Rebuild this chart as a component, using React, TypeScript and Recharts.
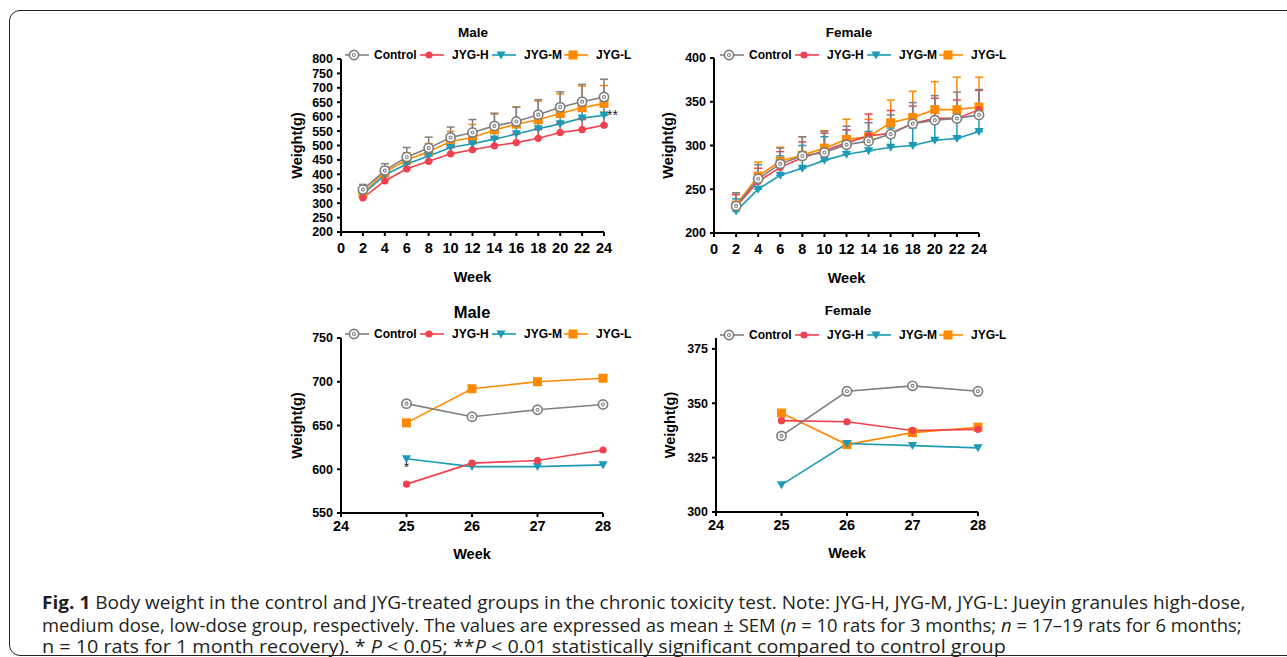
import { LineChart, Line, XAxis, YAxis, ErrorBar, Legend, ReferenceDot } from "recharts";

const FONT = "Arial, 'Liberation Sans', Helvetica, sans-serif";

// 6-month study, weeks 2..24
const weeks = [2, 4, 6, 8, 10, 12, 14, 16, 18, 20, 22, 24];
const maleControl = [347, 413, 460, 491, 528, 545, 568, 583, 607, 633, 652, 668];
const maleH = [318, 377, 419, 445, 471, 485, 499, 510, 525, 545, 555, 570];
const maleM = [330, 398, 436, 464, 493, 506, 522, 540, 558, 575, 595, 605];
const maleL = [336, 407, 450, 479, 514, 528, 554, 574, 589, 611, 631, 646];
const maleControlErr = [18, 24, 33, 38, 36, 45, 44, 50, 52, 53, 60, 62];
const maleHErr = [10, 15, 18, 20, 22, 25, 28, 30, 30, 32, 35, 45];
const maleMErr = [12, 18, 22, 25, 28, 32, 35, 40, 50, 45, 50, 52];
const maleLErr = [12, 20, 25, 28, 35, 45, 55, 60, 65, 68, 75, 62];

const femaleControl = [231, 262, 279, 288, 292, 301, 305, 313, 325, 329, 331, 335];
const femaleH = [230, 259, 275, 286, 294, 303, 311, 314, 325, 331, 331, 341];
const femaleM = [225, 250, 266, 274, 283, 290, 294, 298, 300, 306, 308, 316];
const femaleL = [232, 265, 282, 289, 297, 307, 310, 326, 332, 341, 341, 344];
const femaleControlErr = [15, 16, 18, 22, 24, 21, 21, 22, 24, 28, 30, 29];
const femaleHErr = [14, 15, 18, 18, 20, 15, 25, 26, 20, 23, 21, 22];
const femaleMErr = [14, 18, 22, 26, 27, 28, 22, 22, 20, 22, 20, 27];
const femaleLErr = [12, 16, 16, 21, 20, 23, 20, 26, 30, 32, 37, 34];

// recovery month, weeks 25..28
const recWeeks = [25, 26, 27, 28];
const recMaleControl = [675, 660, 668, 674];
const recMaleH = [583, 607, 610, 622];
const recMaleM = [612, 603, 603, 605];
const recMaleL = [653, 692, 700, 704];
const recFemaleControl = [335, 355.5, 358, 355.5];
const recFemaleH = [342, 341.5, 337.5, 338];
const recFemaleM = [312.5, 331.5, 330.5, 329.5];
const recFemaleL = [345.5, 331, 336.5, 339];

const tickWeeks = [0, 2, 4, 6, 8, 10, 12, 14, 16, 18, 20, 22, 24];
const tickRecWeeks = [24, 25, 26, 27, 28];
const tickMale = [200, 250, 300, 350, 400, 450, 500, 550, 600, 650, 700, 750, 800];
const tickFemale = [200, 250, 300, 350, 400];
const tickRecMale = [550, 600, 650, 700, 750];
const tickRecFemale = [300, 325, 350, 375];

type Kind = "circle" | "dot" | "tri" | "square";
type Series = { key: string; name: string; color: string; kind: Kind };

const SERIES: Series[] = [
  { key: "control", name: "Control", color: "#808080", kind: "circle" },
  { key: "h", name: "JYG-H", color: "#f2404e", kind: "dot" },
  { key: "m", name: "JYG-M", color: "#1b9bb5", kind: "tri" },
  { key: "l", name: "JYG-L", color: "#ff8a00", kind: "square" },
];
// drawn bottom to top
const DRAW = [SERIES[3], SERIES[2], SERIES[1], SERIES[0]];

function buildRows(xs: number[], c: number[], h: number[], m: number[], l: number[], errs?: number[][]) {
  return xs.map((week, i) => {
    const row: any = { week, control: c[i], h: h[i], m: m[i], l: l[i] };
    if (errs) {
      row.controlErr = [0, errs[0][i]];
      row.hErr = [0, errs[1][i]];
      row.mErr = [0, errs[2][i]];
      row.lErr = [0, errs[3][i]];
    }
    return row;
  });
}

function Marker({ kind, cx, cy, color }: { kind: Kind; cx: number; cy: number; color: string }) {
  if (cx == null || cy == null || isNaN(cx) || isNaN(cy)) return null;
  if (kind === "circle")
    return (
      <g>
        <circle cx={cx} cy={cy} r={4.6} fill="#fff" stroke={color} strokeWidth={1.7} />
        <circle cx={cx} cy={cy} r={1.5} fill="none" stroke={color} strokeWidth={1.1} />
      </g>
    );
  if (kind === "dot") return <circle cx={cx} cy={cy} r={3.6} fill={color} />;
  if (kind === "tri")
    return <path d={`M${cx - 4.6},${cy - 3.6}L${cx + 4.6},${cy - 3.6}L${cx},${cy + 4.4}Z`} fill={color} />;
  return <rect x={cx - 4.5} y={cy - 4.5} width={9} height={9} fill={color} />;
}

function LegendRow() {
  return (
    <div style={{ display: "flex", alignItems: "center", fontFamily: FONT, fontWeight: 700, fontSize: 12, color: "#000" }}>
      {SERIES.map((s) => (
        <div key={s.key} style={{ display: "flex", alignItems: "center", width: s.key === "control" ? 75 : 72 }}>
          <svg width={24} height={12}>
            <line x1={0} y1={6} x2={24} y2={6} stroke={s.color} strokeWidth={1.6} />
            <Marker kind={s.kind} cx={9} cy={6} color={s.color} />
          </svg>
          <span style={{ marginLeft: s.key === "control" ? 5 : 8 }}>{s.name}</span>
        </div>
      ))}
    </div>
  );
}

type PanelCfg = {
  title: string;
  titleX: number;
  titleY: number;
  titleSize: number;
  left: number;
  top: number;
  width: number;
  height: number;
  margin: { top: number; right: number; bottom: number; left: number };
  yWidth: number;
  yLabelOffset: number;
  xHeight: number;
  xTickMargin: number;
  xTickSize: number;
  yTickSize: number;
  data: any[];
  xDomain: [number, number];
  xTicks: number[];
  yDomain: [number, number];
  yTicks: number[];
  legendTop: number;
  legendLeft: number;
  errors: boolean;
  note?: { x: number; y: number; text: string; position: "right" | "bottom" };
};

function Panel({ cfg }: { cfg: PanelCfg }) {
  return (
    <>
      <div
        style={{
          position: "absolute",
          left: cfg.titleX - 60,
          width: 120,
          top: cfg.titleY - 10,
          height: 20,
          lineHeight: "20px",
          textAlign: "center",
          fontFamily: FONT,
          fontWeight: 700,
          fontSize: cfg.titleSize,
          color: "#000",
        }}
      >
        {cfg.title}
      </div>
      <div style={{ position: "absolute", left: cfg.left, top: cfg.top, fontFamily: FONT }}>
        <LineChart width={cfg.width} height={cfg.height} data={cfg.data} margin={cfg.margin}>
          <XAxis
            type="number"
            dataKey="week"
            domain={cfg.xDomain}
            ticks={cfg.xTicks}
            interval={0}
            height={cfg.xHeight}
            axisLine={{ stroke: "#000", strokeWidth: 2 }}
            tickLine={{ stroke: "#000", strokeWidth: 2 }}
            tickSize={cfg.xTickSize}
            tickMargin={cfg.xTickMargin}
            tick={{ fill: "#000", fontSize: 14.5, fontWeight: 700 }}
            label={{
              value: "Week",
              position: "insideBottom",
              offset: 0,
              fill: "#000",
              fontSize: 14.5,
              fontWeight: 700,
            }}
          />
          <YAxis
            type="number"
            domain={cfg.yDomain}
            ticks={cfg.yTicks}
            interval={0}
            width={cfg.yWidth}
            allowDataOverflow
            axisLine={{ stroke: "#000", strokeWidth: 2 }}
            tickLine={{ stroke: "#000", strokeWidth: 2 }}
            tickSize={cfg.yTickSize}
            tickMargin={4}
            tick={{ fill: "#000", fontSize: 12.5, fontWeight: 700 }}
            label={{
              value: "Weight(g)",
              angle: -90,
              position: "insideLeft",
              offset: cfg.yLabelOffset,
              fill: "#000",
              fontSize: 14.5,
              fontWeight: 700,
              style: { textAnchor: "middle" },
            }}
          />
          <Legend
            layout="vertical"
            align="center"
            verticalAlign="middle"
            wrapperStyle={{ top: cfg.legendTop, left: cfg.legendLeft, width: 300, height: 14, right: "auto", bottom: "auto" }}
            content={() => <LegendRow />}
          />
          {DRAW.map((s) => (
            <Line
              key={s.key}
              type="linear"
              dataKey={s.key}
              name={s.name}
              stroke={s.color}
              strokeWidth={1.6}
              isAnimationActive={false}
              dot={(p: any) => <Marker key={`${s.key}-${p.index}`} kind={s.kind} cx={p.cx} cy={p.cy} color={s.color} />}
              activeDot={false}
            >
              {cfg.errors && (
                <ErrorBar
                  dataKey={`${s.key}Err`}
                  direction="y"
                  width={4}
                  stroke={s.color}
                  strokeWidth={1.5}
                  isAnimationActive={false}
                />
              )}
            </Line>
          ))}
          {cfg.note && (
            <ReferenceDot
              x={cfg.note.x}
              y={cfg.note.y}
              r={0}
              fill="none"
              stroke="none"
              label={{ value: cfg.note.text, position: cfg.note.position, offset: 3, fill: "#222", fontSize: 14 }}
            />
          )}
        </LineChart>
      </div>
    </>
  );
}

const panels: PanelCfg[] = [
  {
    title: "Male",
    titleX: 473,
    titleY: 33,
    titleSize: 13.5,
    left: 270,
    top: 20,
    width: 364,
    height: 270,
    margin: { top: 39, right: 30, bottom: 8, left: 0 },
    yWidth: 71,
    yLabelOffset: 27,
    xHeight: 50,
    xTickMargin: 7,
    xTickSize: 4,
    yTickSize: 4,
    data: buildRows(weeks, maleControl, maleH, maleM, maleL, [maleControlErr, maleHErr, maleMErr, maleLErr]),
    xDomain: [0, 24],
    xTicks: tickWeeks,
    yDomain: [200, 800],
    yTicks: tickMale,
    legendTop: 28,
    legendLeft: 75,
    errors: true,
    note: { x: 24, y: 605, text: "**", position: "right" },
  },
  {
    title: "Female",
    titleX: 849,
    titleY: 33,
    titleSize: 13.5,
    left: 640,
    top: 20,
    width: 350,
    height: 270,
    margin: { top: 38, right: 11, bottom: 7, left: 0 },
    yWidth: 74,
    yLabelOffset: 28,
    xHeight: 50,
    xTickMargin: 7,
    xTickSize: 4,
    yTickSize: 4,
    data: buildRows(weeks, femaleControl, femaleH, femaleM, femaleL, [femaleControlErr, femaleHErr, femaleMErr, femaleLErr]),
    xDomain: [0, 24],
    xTicks: tickWeeks,
    yDomain: [200, 400],
    yTicks: tickFemale,
    legendTop: 28,
    legendLeft: 80,
    errors: true,
  },
  {
    title: "Male",
    titleX: 472,
    titleY: 312,
    titleSize: 16.5,
    left: 270,
    top: 295,
    width: 344,
    height: 275,
    margin: { top: 43, right: 11, bottom: 11, left: 0 },
    yWidth: 71,
    yLabelOffset: 27,
    xHeight: 46,
    xTickMargin: 4,
    xTickSize: 4,
    yTickSize: 4,
    data: buildRows(recWeeks, recMaleControl, recMaleH, recMaleM, recMaleL),
    xDomain: [24, 28],
    xTicks: tickRecWeeks,
    yDomain: [550, 750],
    yTicks: tickRecMale,
    legendTop: 32,
    legendLeft: 75,
    errors: false,
    note: { x: 25, y: 612, text: "*", position: "bottom" },
  },
  {
    title: "Female",
    titleX: 848,
    titleY: 311,
    titleSize: 13.5,
    left: 640,
    top: 295,
    width: 349,
    height: 275,
    margin: { top: 43, right: 11, bottom: 12, left: 0 },
    yWidth: 76,
    yLabelOffset: 30,
    xHeight: 46,
    xTickMargin: 4,
    xTickSize: 4,
    yTickSize: 4,
    data: buildRows(recWeeks, recFemaleControl, recFemaleH, recFemaleM, recFemaleL),
    xDomain: [24, 28],
    xTicks: tickRecWeeks,
    yDomain: [300, 380],
    yTicks: tickRecFemale,
    legendTop: 33,
    legendLeft: 80,
    errors: false,
  },
];

const captionStyle: React.CSSProperties = {
  position: "absolute",
  left: 42,
  whiteSpace: "nowrap",
  fontFamily: "'Open Sans', 'Noto Sans', sans-serif",
  fontSize: 17.5,
  lineHeight: "19px",
  height: 19,
  color: "#231f20",
  transformOrigin: "left center",
};

export default function App() {
  return (
    <div style={{ position: "fixed", left: 0, top: 0, width: 1287, height: 657, overflow: "hidden", background: "#fff" }}>
      <div
        style={{
          position: "absolute",
          left: 9,
          top: 10,
          width: 1320,
          height: 644,
          border: "1.5px solid #222",
          borderRadius: 11,
          boxSizing: "content-box",
        }}
      />
      {panels.map((p, i) => (
        <Panel key={i} cfg={p} />
      ))}
      <div style={{ ...captionStyle, top: 593, transform: "scaleX(1.088)" }}>
        <b>Fig. 1</b> Body weight in the control and JYG-treated groups in the chronic toxicity test. Note: JYG-H, JYG-M, JYG-L: Jueyin granules high-dose,
      </div>
      <div style={{ ...captionStyle, top: 615.5, transform: "scaleX(1.053)" }}>
        medium dose, low-dose group, respectively. The values are expressed as mean ± SEM (<i>n</i> = 10 rats for 3 months; <i>n</i> = 17–19 rats for 6 months;
      </div>
      <div style={{ ...captionStyle, top: 637, transform: "scaleX(1.13)" }}>
        n = 10 rats for 1 month recovery). * <i>P</i> &lt; 0.05; **<i>P</i> &lt; 0.01 statistically significant compared to control group
      </div>
    </div>
  );
}
